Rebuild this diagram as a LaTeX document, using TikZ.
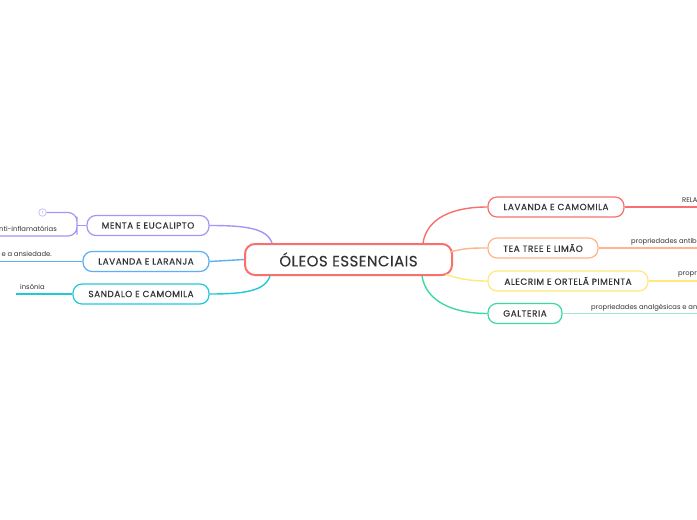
\documentclass[tikz,border=0pt]{standalone}
\usepackage{fontspec}
\setmainfont{Poppins}
\newfontfamily\topicfont[LetterSpace=6,FakeBold=0.2]{Poppins}
\newfontfamily\rootfont[LetterSpace=3,FakeBold=0.2]{Poppins}
\usetikzlibrary{positioning}
\definecolor{ink}{HTML}{333333}
\definecolor{mred}{HTML}{F7706D}
\definecolor{morange}{HTML}{FFB48A}
\definecolor{myellow}{HTML}{FFE97A}
\definecolor{mgreen}{HTML}{3DD9A2}
\definecolor{mmint}{HTML}{9FE9CF}
\definecolor{mpurple}{HTML}{A596F5}
\definecolor{mblue}{HTML}{5EAEF2}
\definecolor{mcyan}{HTML}{22C8D8}
\tikzset{
  root/.style={
    draw = mred,
    line width = 2pt,
    rounded corners = 10pt,
    fill = white,
    minimum width = 207pt,
    minimum height = 31pt,
    text = ink,
    font = \rootfont\fontsize{15}{18}\selectfont
  },
  topic/.style={
    draw = #1,
    line width = 1.2pt,
    rounded corners = 9pt,
    fill = white,
    inner sep = 0pt,
    minimum height = 20pt,
    text = ink,
    font = \topicfont\fontsize{8.9}{10}\selectfont
  },
  leaf/.style={
    inner sep = 0pt,
    text = ink,
    font = \fontsize{6.8}{8}\selectfont
  },
  link/.style={
    draw = #1,
    line width = 1.4pt
  },
  fold/.style={
    draw = #1!60,
    shape = circle,
    line width = 0.8pt,
    inner sep = 0pt,
    minimum size = 7.5pt,
    text = #1,
    font = \fontsize{4.5}{4.5}\selectfont
  },
}
\begin{document}
\begin{tikzpicture}[x=1pt,y=-1pt]
  \useasboundingbox (0,0) rectangle (697,520);
  \fill[white] (0,0) rectangle (697,520);
  % centre
  \node[root] (oleos) at (348.5,259.5) {ÓLEOS ESSENCIAIS};
  % right side
  \node[topic=mred, minimum width=136pt] (lavcam) at (556,207) {LAVANDA E CAMOMILA};
  \node[topic=morange, minimum width=110pt] (teatree) at (543,248) {TEA TREE E LIMÃO};
  \node[topic=myellow, minimum width=160pt] (alecrim) at (568,281) {ALECRIM E ORTELÃ PIMENTA};
  \node[topic=mgreen, minimum width=74pt] (galteria) at (525,313.5) {GALTERIA};
  % left side
  \node[topic=mpurple, minimum width=122pt] (menta) at (148,225.5) {MENTA E EUCALIPTO};
  \node[topic=mblue, minimum width=126pt] (lavlar) at (146,261.5) {LAVANDA E LARANJA};
  \node[topic=mcyan, minimum width=136pt] (sandalo) at (141,294) {SANDALO E CAMOMILA};

  \draw[link=mred] ([xshift=74.5pt]oleos.north) .. controls +(4,-25) and +(-35,0) .. (lavcam.west);
  \draw[link=morange] ([xshift=-3pt,yshift=7.5pt]oleos.east) .. controls +(15,-4) and +(-15,0) .. (teatree.west);
  \draw[link=myellow] ([xshift=-7pt,yshift=-15pt]oleos.east) .. controls +(15,5) and +(-15,0) .. (alecrim.west);
  \draw[link=mgreen] ([xshift=73.5pt]oleos.south) .. controls +(4,25) and +(-35,0) .. (galteria.west);
  \draw[link=mpurple] ([xshift=-76.5pt]oleos.north) .. controls +(-5,-15) and +(35,0) .. (menta.east);
  \draw[link=mblue] (oleos.west) -- (lavlar.east);
  \draw[link=mcyan] ([xshift=-78.5pt]oleos.south) .. controls +(-5,15) and +(35,0) .. (sandalo.east);

  % leaves on the right
  \coordinate (lavcam-end) at (697,207);
  \coordinate (teatree-end) at (697,248);
  \coordinate (alecrim-end) at (697,281);
  \coordinate (galteria-end) at (697,313.5);
  \draw[link=mred, line width=1.2pt] (lavcam.east) -- (lavcam-end);
  \draw[link=morange, line width=1.2pt] (teatree.east) -- (teatree-end);
  \draw[link=myellow, line width=1.2pt] (alecrim.east) -- (alecrim-end);
  \draw[link=mmint, line width=1.2pt] (galteria.east) -- (galteria-end);
  \node[leaf, anchor=base west] (relax) at (682,202) {RELA};
  \node[leaf, anchor=base west] (antib) at (631,243.5) {propriedades antib};
  \node[leaf, anchor=base west] (propr) at (678,275.5) {propr};
  \node[leaf, anchor=base west] (analg) at (591,309.5) {propriedades analgésicas e an};

  % leaves on the left
  \node[fold=mpurple] (plus) at (42.5,212.5) {1};
  \coordinate (menta-fork) at (77,225.5);
  \coordinate (menta-end) at (0,236);
  \coordinate (lavlar-end) at (0,261.5);
  \coordinate (sandalo-end) at (16,294);
  \draw[link=mpurple, line width=1.2pt] (menta.west) -- (menta-fork);
  \draw[link=mpurple, line width=1.2pt, rounded corners=9pt] (plus.east) -| (menta-fork) |- (menta-end);
  \draw[link=mblue, line width=1.2pt] (lavlar.west) -- (lavlar-end);
  \draw[link=mcyan, line width=1.2pt] (sandalo.west) -- (sandalo-end);
  \node[leaf, anchor=base east] (inflam) at (57,231.5) {nti-inflamatórias};
  \node[leaf, anchor=base east] (ansied) at (52,256.5) {e a ansiedade.};
  \node[leaf, anchor=base west] (insonia) at (20,289.5) {insônia};
\end{tikzpicture}
\end{document}
